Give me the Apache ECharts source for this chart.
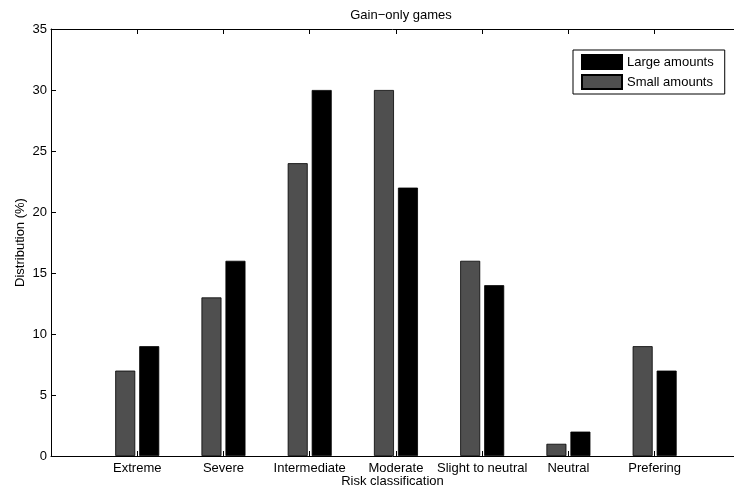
<!DOCTYPE html>
<html>
<head>
<meta charset="utf-8">
<script src="https://cdn.jsdelivr.net/npm/echarts@6/dist/echarts.min.js"></script>
<style>html,body{margin:0;padding:0;background:#fff;}#c{width:734px;height:494px;}</style>
</head>
<body>
<div id="c"></div>
<script>
const categories = ['Extreme', 'Severe', 'Intermediate', 'Moderate', 'Slight to neutral', 'Neutral', 'Prefering'];
const smallAmounts = [7, 13, 24, 30, 16, 1, 9];
const largeAmounts = [9, 16, 30, 22, 14, 2, 7];
const titleText = 'Gain\u2212only games';
const xName = 'Risk classification';
const yName = 'Distribution (%)';

const FONT = "'Liberation Sans', Arial, Helvetica, sans-serif";
const chart = echarts.init(document.getElementById('c'), null, {renderer: 'canvas'});

const toPairs = arr => arr.map((v, i) => [i + 1, v]);
const X_MAX = 7.92; // visible part of the axis range (plot is cropped on the right)

chart.setOption({
  animation: false,
  backgroundColor: '#fff',
  textStyle: {fontFamily: FONT},
  title: {
    text: titleText,
    left: 396, top: 4, textAlign: 'center',
    textStyle: {fontFamily: FONT, fontSize: 13, fontWeight: 'normal', color: '#000'}
  },
  legend: {
    orient: 'vertical',
    left: 573, top: 50,
    data: ['Large amounts', 'Small amounts'],
    itemWidth: 40, itemHeight: 14, itemGap: 4,
    padding: [4, 11, 4, 8],
    borderColor: '#000', borderWidth: 1,
    backgroundColor: '#fff',
    icon: 'rect',
    textStyle: {fontFamily: FONT, fontSize: 13, color: '#000'}
  },
  grid: {left: 51, right: 0, top: 29, bottom: 38, containLabel: false, outerBoundsMode: 'none'},
  xAxis: [{
    type: 'value', min: 0, max: X_MAX, interval: 1,
    position: 'bottom',
    name: xName, nameLocation: 'middle', nameGap: 19, nameMoveOverlap: false,
    nameTextStyle: {fontFamily: FONT, fontSize: 13, color: '#000'},
    axisLine: {show: true, lineStyle: {color: '#000', width: 1}},
    axisTick: {show: true, inside: true, length: 5, lineStyle: {color: '#000'}},
    axisLabel: {
      fontFamily: FONT, fontSize: 13, color: '#000', margin: 6,
      showMinLabel: true, showMaxLabel: true,
      formatter: v => (Number.isInteger(v) && v >= 1 && v <= categories.length) ? categories[v - 1] : ''
    },
    splitLine: {show: false}
  }, {
    type: 'value', min: 0, max: X_MAX, interval: 1,
    position: 'top',
    axisLine: {show: true, lineStyle: {color: '#000', width: 1}},
    axisTick: {show: true, inside: true, length: 5, lineStyle: {color: '#000'}},
    axisLabel: {show: false},
    splitLine: {show: false}
  }],
  yAxis: [{
    type: 'value', min: 0, max: 35, interval: 5,
    name: yName, nameLocation: 'middle', nameGap: 24, nameMoveOverlap: false,
    nameTextStyle: {fontFamily: FONT, fontSize: 13, color: '#000'},
    axisLine: {show: true, lineStyle: {color: '#000', width: 1}},
    axisTick: {show: true, inside: true, length: 5, lineStyle: {color: '#000'}},
    axisLabel: {fontFamily: FONT, fontSize: 13, color: '#000', margin: 4},
    splitLine: {show: false}
  }],
  series: [{
    name: 'Small amounts', type: 'bar', xAxisIndex: 0, yAxisIndex: 0,
    data: toPairs(smallAmounts),
    barWidth: 20, barGap: '20%',
    itemStyle: {color: '#4f4f4f', borderColor: '#000', borderWidth: 0.8}
  }, {
    name: 'Large amounts', type: 'bar', xAxisIndex: 0, yAxisIndex: 0,
    data: toPairs(largeAmounts),
    barWidth: 20, barGap: '20%',
    itemStyle: {color: '#000', borderColor: '#000', borderWidth: 0.8}
  }]
});
</script>
</body>
</html>
